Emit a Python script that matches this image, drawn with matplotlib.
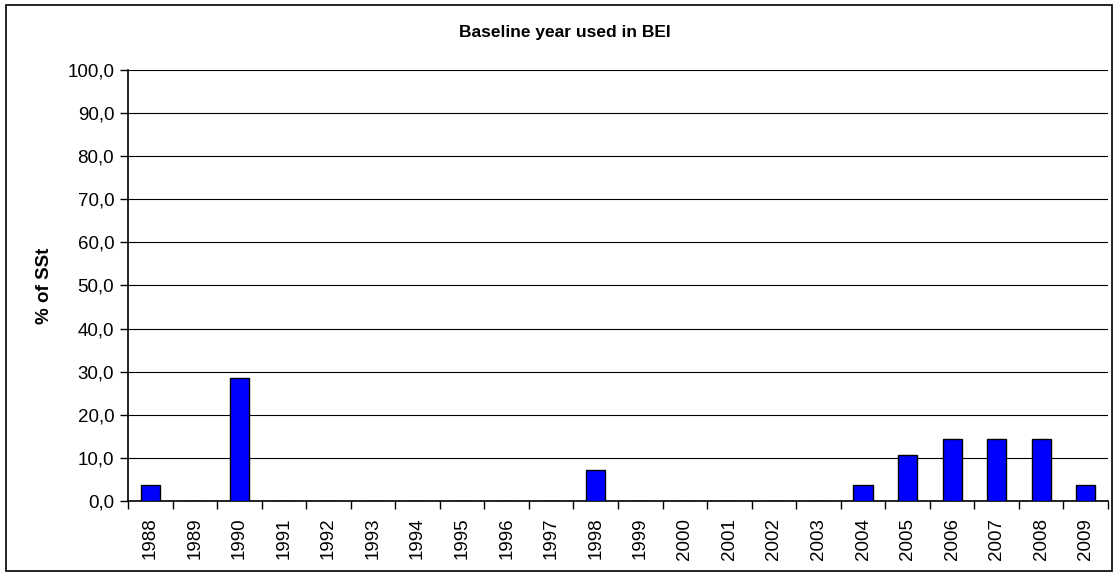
import matplotlib.pyplot as plt
import numpy as np
from matplotlib.ticker import FuncFormatter
from matplotlib.patches import Rectangle

plt.rcParams['font.family'] = ['Liberation Sans', 'DejaVu Sans']

# Share of signatories (SSt) by baseline year
years = [str(y) for y in range(1988, 2010)]
share = [3.6, 0.0, 28.6, 0.0, 0.0, 0.0, 0.0, 0.0, 0.0, 0.0, 7.1,
         0.0, 0.0, 0.0, 0.0, 0.0, 3.6, 10.7, 14.3, 14.3, 14.3, 3.6]
y_ticks = np.arange(0, 101, 10)

fig = plt.figure(figsize=(11.2, 5.76), dpi=100)
ax = fig.add_axes([0.1143, 0.1302, 0.875, 0.7483])

# outer chart border
fig.patches.append(Rectangle((0.005, 0.008), 0.988, 0.983, transform=fig.transFigure,
                             fill=False, edgecolor='black', linewidth=1.2))

x = np.arange(len(years))
ax.bar(x, share, width=0.43, color='#0000ff', edgecolor='black', linewidth=1.0, zorder=3)

ax.set_xlim(-0.5, len(years) - 0.5)
ax.set_ylim(0, 100)
ax.set_yticks(y_ticks)
ax.yaxis.set_major_formatter(FuncFormatter(lambda v, p: f"{v:.1f}".replace('.', ',')))
ax.yaxis.grid(True, color='black', linewidth=0.8, zorder=0)

# year labels centred on bars, ticks on category boundaries
ax.set_xticks(x)
ax.set_xticklabels(years, rotation=90, fontsize=13.5)
ax.set_xticks(np.arange(-0.5, len(years), 1), minor=True)
ax.tick_params(axis='x', which='major', length=0, pad=12)
ax.tick_params(axis='x', which='minor', length=6, direction='out', width=1)
ax.tick_params(axis='y', labelsize=13.5, length=6, width=1, pad=4)

for side in ['top', 'right']:
    ax.spines[side].set_visible(False)
for side in ['left', 'bottom']:
    ax.spines[side].set_linewidth(1.2)

ax.set_ylabel('% of SSt', fontsize=13.5, fontweight='bold', labelpad=10)
fig.text(0.504, 0.944, 'Baseline year used in BEI', ha='center', va='center',
         fontsize=12.5, fontweight='bold')

fig.savefig('out.png', dpi=100)
